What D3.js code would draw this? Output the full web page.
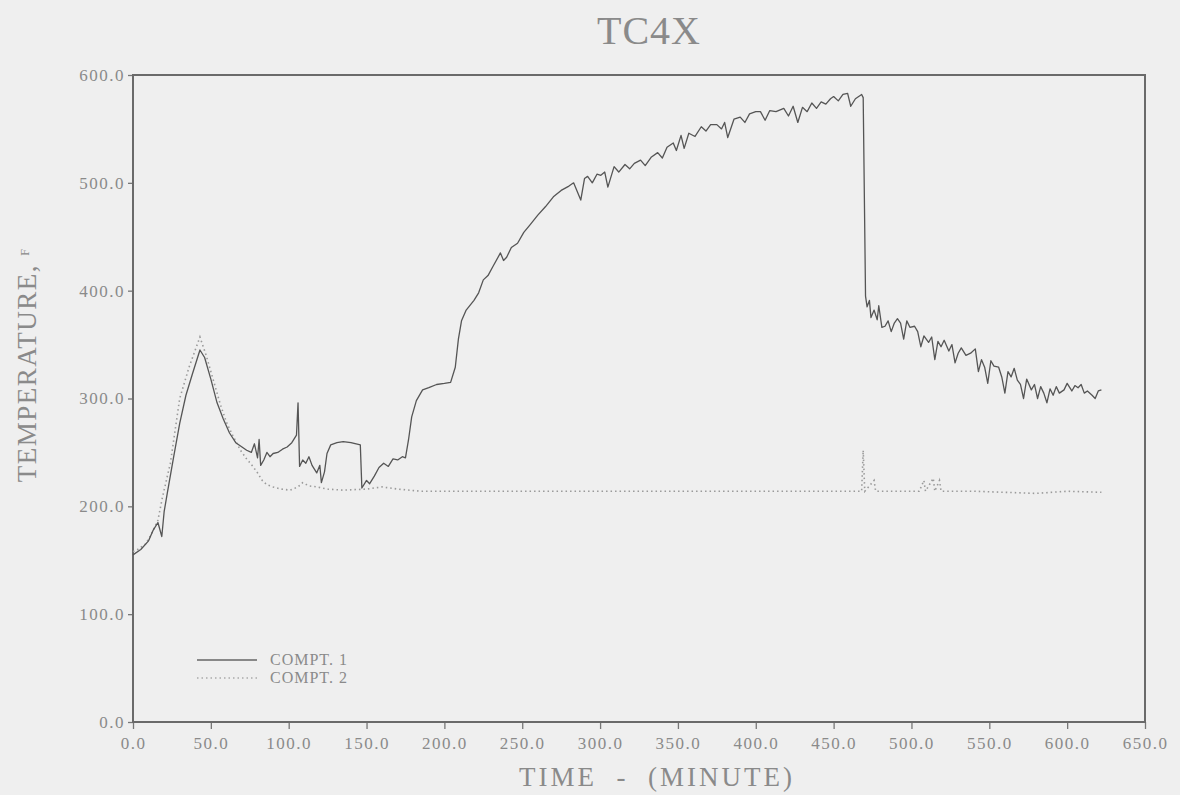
<!DOCTYPE html>
<html>
<head>
<meta charset="utf-8">
<script src="https://cdn.jsdelivr.net/npm/d3@7"></script>
<style>
  body { margin: 0; background: #efefef; }
  svg { display: block; }
  text { font-family: "Liberation Serif", "DejaVu Serif", serif; fill: #8a8a8a; }
</style>
</head>
<body>
<svg id="chart" width="1180" height="795"></svg>
<script>
// TC4X - compartment temperatures
var xTicks = [0, 50, 100, 150, 200, 250, 300, 350, 400, 450, 500, 550, 600, 650];
var yTicks = [0, 100, 200, 300, 400, 500, 600];
var seriesNames = ["COMPT. 1", "COMPT. 2"];

// COMPT. 1 (solid)
var compt1Time = [0, 5, 10, 13, 16, 18.5, 20, 22, 26, 30, 34, 38, 43, 46, 50, 54, 58, 62, 66, 70,
  73, 76, 78, 80, 81, 82, 84, 86, 88, 90, 93, 96, 99, 102, 105, 106, 107, 109, 111, 113,
  115, 118, 120, 121, 123, 124.6, 127, 131, 135, 140, 146, 147, 150, 152, 155, 158, 161, 164, 167, 170,
  173, 175, 177, 179, 182, 186, 190, 195, 200, 204, 207, 209, 211, 214, 219, 222, 225, 228, 231, 236,
  238, 240, 243, 247, 251, 255, 260, 265, 270, 275, 280, 283, 287.6, 290, 292, 295, 298, 300.5, 303, 305,
  309, 312, 316, 319, 322, 326, 329, 333, 337, 340, 343, 347, 349, 352, 354, 357, 361, 365, 368, 371,
  375, 378, 380, 382, 386, 390, 393, 396, 400, 403, 406, 409, 413, 418, 421, 424, 427, 430, 433, 436,
  439, 442, 445, 448, 450, 453, 456, 459, 461, 464, 468, 469, 470.5, 471.5, 473, 474, 476, 478, 479, 481,
  483, 485, 487, 489, 491, 493, 495, 497, 499, 502, 504, 506, 508, 511, 513, 515, 517, 519, 521, 524,
  526, 528, 530, 532, 535, 538, 541, 543, 545, 547, 549, 551, 553, 556, 558, 560, 562, 564, 566, 568,
  570, 572, 574, 577, 579, 581, 583, 585, 587, 589, 591, 593, 595, 598, 600, 603, 605, 607, 609, 611,
  613, 616, 618, 620, 622];
var compt1Temp = [155, 160, 168, 178, 185, 172, 195, 212, 245, 277, 303, 322, 345, 338, 318, 296, 281, 268, 259, 255,
  252, 250, 258, 245, 262, 238, 243, 250, 246, 249, 250, 253, 255, 259, 266, 296, 237, 243, 240, 246,
  238, 231, 238, 222, 232, 249, 257, 259, 260, 259, 257, 217, 224, 221, 228, 236, 240, 237, 244, 243,
  246, 245, 262, 283, 298, 308, 310, 313, 314, 315, 329, 355, 372, 382, 391, 398, 410, 414, 422, 435,
  428, 431, 440, 444, 454, 461, 470, 478, 487, 493, 497, 500, 484, 504, 506, 500, 508, 507, 510, 496,
  515, 510, 517, 513, 518, 521, 516, 524, 528, 523, 533, 537, 530, 544, 532, 546, 543, 552, 548, 554,
  554, 550, 556, 542, 559, 561, 556, 564, 566, 566, 558, 567, 566, 569, 562, 571, 556, 570, 566, 574,
  569, 575, 573, 578, 580, 576, 582, 583, 571, 578, 582, 579, 395, 385, 391, 375, 382, 373, 386, 366,
  367, 372, 362, 370, 374, 370, 355, 372, 366, 367, 362, 348, 358, 352, 357, 336, 353, 348, 354, 344,
  350, 333, 342, 347, 340, 342, 346, 325, 336, 329, 314, 335, 330, 329, 320, 305, 325, 320, 328, 317,
  313, 300, 318, 308, 313, 300, 311, 305, 296, 309, 303, 311, 305, 308, 314, 307, 312, 310, 313, 305,
  307, 303, 300, 307, 308];

// COMPT. 2 (dotted)
var compt2Time = [0, 3, 8, 11, 16, 19, 24, 30, 36, 40, 43, 47, 52, 56, 60, 64, 69, 73, 77, 80,
  83, 86, 90, 95, 101, 106, 109, 113, 118, 125, 135, 150, 160, 170, 185, 200, 250, 300, 350, 400,
  450, 468, 469, 470, 476, 477, 505, 508, 509, 514, 515, 518, 519, 540, 580, 600, 622];
var compt2Temp = [158, 160, 165, 172, 187, 209, 240, 300, 329, 345, 357, 340, 315, 295, 278, 266, 252, 244, 237, 231,
  224, 220, 218, 216, 215, 218, 222, 219, 218, 216, 215, 216, 218, 216, 214, 214, 214, 214, 214, 214,
  214, 214, 252, 214, 224, 214, 214, 224, 214, 226, 214, 224, 214, 214, 212, 214, 213];

var svg = d3.select("#chart");
var margin = { top: 75, right: 35, bottom: 73, left: 133 };
var plotWidth = 1180 - margin.left - margin.right;
var plotHeight = 795 - margin.top - margin.bottom;

var xScale = d3.scaleLinear().domain([0, 650]).range([0, plotWidth]);
var yScale = d3.scaleLinear().domain([0, 600]).range([plotHeight, 0]);

var plot = svg.append("g").attr("transform", "translate(" + margin.left + "," + margin.top + ")");

// axes (ticks only, frame drawn as a box)
var xAxis = d3.axisBottom(xScale).tickValues(xTicks).tickFormat(d3.format(".1f")).tickSize(7).tickSizeOuter(0).tickPadding(8);
var yAxis = d3.axisLeft(yScale).tickValues(yTicks).tickFormat(d3.format(".1f")).tickSize(5).tickSizeOuter(0).tickPadding(3);

var xGroup = plot.append("g").attr("transform", "translate(0," + plotHeight + ")").call(xAxis);
var yGroup = plot.append("g").call(yAxis);
[xGroup, yGroup].forEach(function(g) {
  g.select(".domain").remove();
  g.selectAll(".tick line").attr("stroke", "#777").attr("stroke-width", 1.3);
  g.selectAll(".tick text").style("font-size", "17px").style("letter-spacing", "1.5px")
    .style("font-family", "'Liberation Serif', 'DejaVu Serif', serif").attr("fill", "#8a8a8a");
});

plot.append("rect")
  .attr("x", 0).attr("y", 0)
  .attr("width", plotWidth).attr("height", plotHeight)
  .attr("fill", "none").attr("stroke", "#6a6a6a").attr("stroke-width", 2);

var line = d3.line()
  .x(function(d) { return xScale(d[0]); })
  .y(function(d) { return yScale(d[1]); });

var c2 = compt2Time.map(function(t, i) { return [t, compt2Temp[i]]; });
var c1 = compt1Time.map(function(t, i) { return [t, compt1Temp[i]]; });

plot.append("path").datum(c2)
  .attr("d", line).attr("fill", "none")
  .attr("stroke", "#9a9a9a").attr("stroke-width", 1.6)
  .attr("stroke-dasharray", "1.5,3");

plot.append("path").datum(c1)
  .attr("d", line).attr("fill", "none")
  .attr("stroke", "#555").attr("stroke-width", 1.3)
  .attr("stroke-linejoin", "round");

// legend
var legend = svg.append("g").attr("transform", "translate(197,660)");
legend.append("line").attr("x1", 0).attr("x2", 60).attr("y1", 0).attr("y2", 0)
  .attr("stroke", "#666").attr("stroke-width", 1.3);
legend.append("line").attr("x1", 0).attr("x2", 60).attr("y1", 18).attr("y2", 18)
  .attr("stroke", "#aaa").attr("stroke-width", 1.5).attr("stroke-dasharray", "1.5,3");
seriesNames.forEach(function(name, i) {
  legend.append("text").attr("x", 73).attr("y", i * 18 + 5)
    .style("font-size", "16px").style("letter-spacing", "1px").text(name);
});

// titles
svg.append("text")
  .attr("x", 649).attr("y", 44)
  .attr("text-anchor", "middle")
  .style("font-size", "40px").style("letter-spacing", "1px")
  .text("TC4X");

svg.append("text")
  .attr("x", 657).attr("y", 786)
  .attr("text-anchor", "middle")
  .style("font-size", "27px").style("letter-spacing", "3px")
  .style("white-space", "pre")
  .text("TIME  -  (MINUTE)");

var yTitle = svg.append("text")
  .attr("transform", "translate(36,365) rotate(-90)")
  .attr("text-anchor", "middle")
  .style("font-size", "27px").style("letter-spacing", "1.5px");
yTitle.append("tspan").text("TEMPERATURE, ");
yTitle.append("tspan").style("font-size", "12px").attr("baseline-shift", "super").text("F");
</script>
</body>
</html>
